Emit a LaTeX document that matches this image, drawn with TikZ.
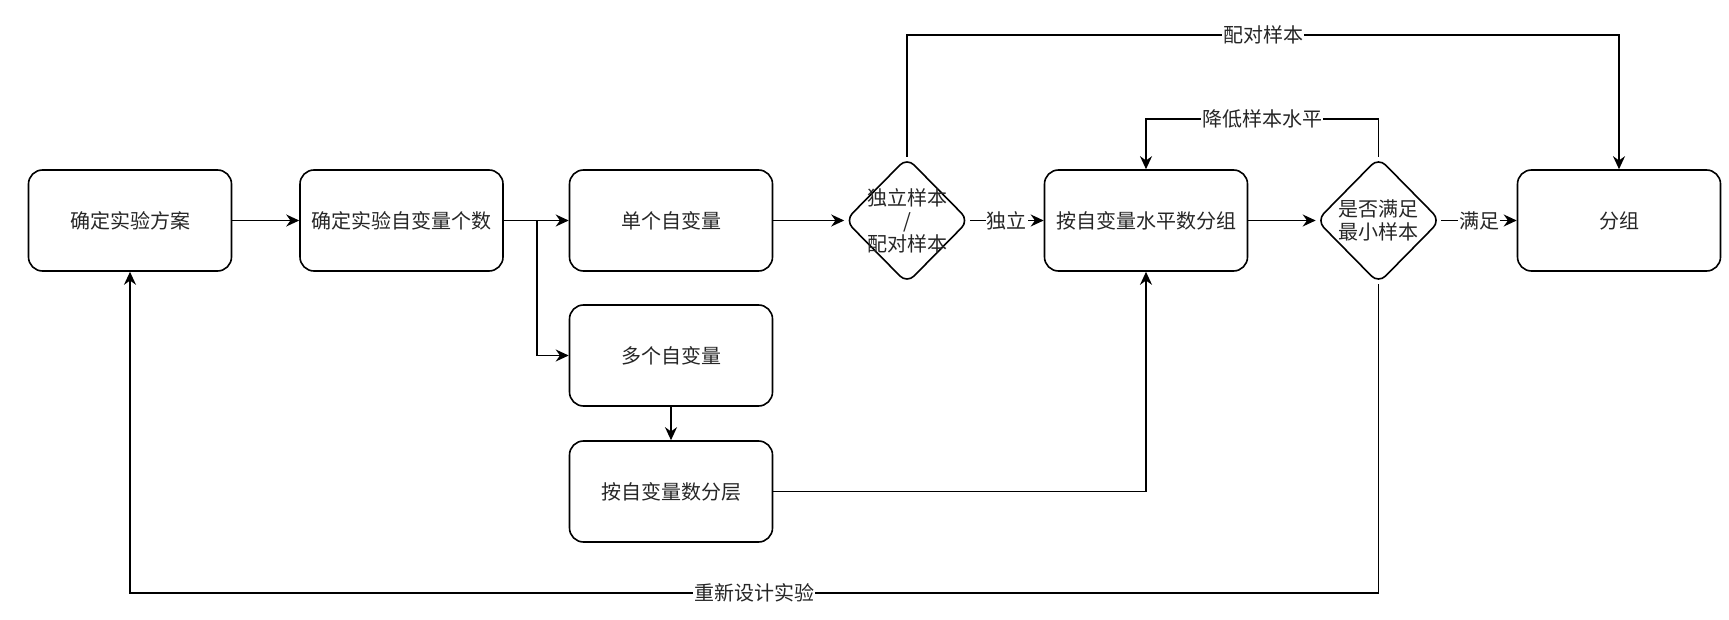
\documentclass[tikz,border=0pt]{standalone}
\usepackage{fontspec}
\setmainfont{Noto Sans CJK SC}
\usetikzlibrary{arrows.meta,shapes.geometric}

\begin{document}
\begin{tikzpicture}[x=1pt, y=-1pt,
    txt/.style={font=\fontsize{20pt}{23pt}\selectfont, text=black!85},
    box/.style={draw, line width=1.6pt, rounded corners=14pt, minimum width=203pt,
      minimum height=101pt, inner sep=0pt, txt},
    decision/.style={draw, diamond, line width=1.6pt, rounded corners=10pt,
      minimum width=124pt, minimum height=126pt, inner sep=0pt},
    dtext/.style={txt, align=center},
    arr/.style={line width=1.6pt, -{Stealth[length=13pt,width=12pt]}},
    elabel/.style={txt, fill=white, inner sep=1pt}]
    \useasboundingbox (0,0) rectangle (1729,620);
    \node[box] (b1) at (130,220.5) {确定实验方案};
    \node[box] (b2) at (401.5,220.5) {确定实验自变量个数};
    \node[box] (b3) at (671,220.5) {单个自变量};
    \node[box] (b4) at (671,355.5) {多个自变量};
    \node[box] (b5) at (671,491.5) {按自变量数分层};
    \node[decision, label={[dtext]center:独立样本\\/\\配对样本}] (d1) at (907,220.5) {};
    \node[box] (b6) at (1146,220.5) {按自变量水平数分组};
    \node[decision, label={[dtext]center:是否满足\\最小样本}] (d2) at (1378.5,220.5) {};
    \node[box] (b7) at (1619,220.5) {分组};
    \coordinate (br) at (537,220.5);
    \coordinate (top1) at (907,35);
    \coordinate (top2) at (1378.5,119);
    \coordinate (bot) at (1378.5,593);
    \draw[arr] (b1) -- (b2);
    \draw[arr] (b2) -- (b3);
    \draw[arr] (br) |- (b4.west);
    \draw[arr] (b4) -- (b5);
    \draw[arr] (b3) -- (d1);
    \draw[arr] (d1) -- node[elabel]{独立} (b6);
    \draw[arr] (d1.north) -- (top1) -| node[elabel, pos=0.25]{配对样本} (b7.north);
    \draw[arr] (b6) -- (d2);
    \draw[arr] (d2.north) -- (top2) -| node[elabel, pos=0.25]{降低样本水平} (b6.north);
    \draw[arr] (d2) -- node[elabel]{满足} (b7);
    \draw[arr] (d2.south) -- (bot) -| node[elabel, pos=0.25]{重新设计实验} (b1.south);
    \draw[arr] (b5.east) -| (b6.south);
  \end{tikzpicture}
\end{document}
